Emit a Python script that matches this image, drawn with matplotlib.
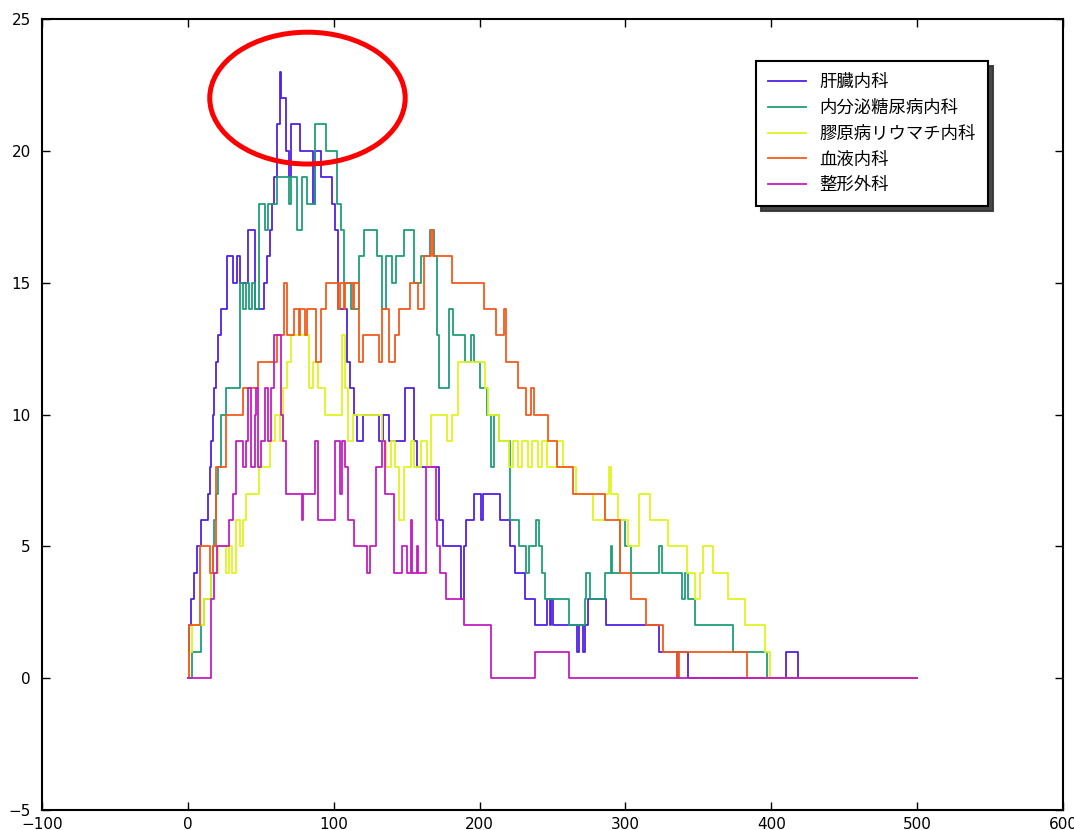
import matplotlib
matplotlib.use('Agg')
import matplotlib.pyplot as plt
from matplotlib.patches import Ellipse

plt.rcParams['font.family'] = ['DejaVu Sans']

# 各科の推移 (x, 値) 変化点
kanzo = [(0,0),(1,2),(2,3),(4,4),(6,5),(9,6),(14,7),(15,8),(16,9),(17,10),(18,11),(19,12),
         (21,13),(23,14),(27,16),(31,15),(34,16),(36,15),(41,17),(46,14),(52,15),(54,16),
         (56,17),(58,18),(59,19),(61,21),(63,23),(64,22),(67,20),(69,19),(71,21),(77,20),
         (86,18),(87,20),(91,19),(99,18),(101,17),(103,14),(109,12),(111,11),(114,10),
         (116,9),(120,10),(131,9),(134,10),(138,9),(149,11),(155,9),(157,8),(172,6),(175,5),
         (187,3),(189,5),(191,6),(196,7),(201,6),(202,7),(214,6),(221,5),(224,4),(231,3),
         (238,2),(246,3),(248,2),(249,3),(250,2),(267,1),(268,2),(271,1),(272,2),(274,3),
         (287,2),(323,1),(335,0),(336,1),(343,0),(410,1),(418,0),(500,0)]

naibunpi = [(0,0),(3,1),(9,2),(11,3),(16,4),(17,5),(18,6),(19,7),(21,8),(23,10),(26,11),
            (36,15),(38,14),(40,15),(42,14),(44,15),(46,14),(49,18),(53,17),(55,18),(61,19),
            (69,18),(71,19),(75,17),(78,19),(82,18),(87,21),(95,20),(102,18),(105,17),
            (107,15),(112,14),(117,16),(121,17),(130,16),(133,14),(136,16),(140,15),(143,16),
            (148,17),(155,15),(160,16),(166,17),(169,16),(171,13),(172,11),(179,14),(182,13),
            (190,12),(194,13),(196,12),(200,11),(205,10),(208,8),(210,10),(213,9),(221,6),
            (227,5),(232,4),(234,5),(239,6),(241,5),(243,4),(245,3),(261,2),(272,3),(273,4),
            (276,3),(286,4),(290,5),(291,4),(296,6),(300,5),(304,4),(323,5),(325,4),(339,3),
            (341,4),(343,3),(348,2),(374,1),(397,0),(500,0)]

kogen = [(0,0),(1,1),(3,2),(11,3),(16,4),(21,5),(26,4),(28,5),(30,4),(33,6),(36,5),(38,6),
         (40,7),(49,8),(56,9),(60,10),(63,9),(65,11),(68,12),(71,13),(83,11),(86,12),(89,11),
         (94,10),(106,13),(108,11),(110,9),(113,10),(133,9),(136,8),(139,9),(142,8),(145,6),
         (148,8),(153,9),(155,8),(160,9),(164,8),(167,10),(178,9),(181,10),(185,12),(204,11),
         (206,10),(213,9),(220,8),(223,9),(226,8),(229,9),(233,8),(236,9),(240,8),(243,9),
         (246,8),(253,9),(257,8),(266,7),(278,6),(286,7),(289,8),(290,7),(295,6),(302,5),
         (309,7),(317,6),(329,5),(342,4),(348,3),(351,4),(353,5),(360,4),(370,3),(382,2),
         (396,1),(399,0),(500,0)]

ketsueki = [(0,0),(1,2),(8,5),(15,4),(17,5),(19,8),(26,10),(38,11),(48,12),(61,13),(66,15),
            (68,13),(73,14),(76,13),(77,14),(80,13),(82,14),(88,12),(91,14),(95,15),(103,14),
            (104,15),(107,14),(108,15),(113,14),(114,15),(117,12),(120,13),(131,12),(133,14),
            (138,12),(142,13),(145,14),(152,15),(158,14),(162,16),(167,17),(168,16),(181,15),
            (203,14),(211,13),(217,14),(218,12),(226,11),(232,10),(235,11),(237,10),(247,9),
            (253,8),(264,7),(286,6),(296,4),(304,3),(314,2),(326,1),(335,0),(337,1),(383,0),
            (500,0)]

seikei = [(0,0),(16,3),(18,4),(20,5),(28,6),(31,7),(33,9),(38,8),(40,9),(41,11),(43,8),
          (46,10),(47,11),(48,8),(50,9),(53,11),(55,9),(57,11),(59,13),(64,10),(65,9),(67,7),
          (78,6),(79,7),(87,9),(89,6),(101,9),(104,7),(106,9),(108,8),(110,6),(114,5),(123,4),
          (125,5),(129,8),(133,9),(135,7),(141,4),(147,5),(150,4),(153,6),(154,4),(157,5),
          (158,4),(163,8),(170,6),(171,5),(173,4),(177,3),(189,2),(208,0),(238,1),(261,0),
          (500,0)]

labels = ['肝臓内科', '内分泌糖尿病内科', '膠原病リウマチ内科', '血液内科', '整形外科']
colors = ['#5021e4', '#1f9f78', '#dff41f', '#f25a1c', '#c41ec0']
series = [kanzo, naibunpi, kogen, ketsueki, seikei]

fig = plt.figure(figsize=(10.74, 8.30), dpi=100)
ax = fig.add_axes([0.0391, 0.0241, 0.9507, 0.9530])

for s, lab, c in zip(series, labels, colors):
    xs = [p[0] for p in s]
    ys = [p[1] for p in s]
    ax.plot(xs, ys, drawstyle='steps-post', color=c, lw=1.3, label=lab)

ax.set_xlim(-100, 600)
ax.set_ylim(-5, 25)
ax.set_xticks([-100, 0, 100, 200, 300, 400, 500, 600])
ax.set_yticks([-5, 0, 5, 10, 15, 20, 25])
ax.tick_params(direction='in', top=True, right=True, length=6, width=1, labelsize=11)
ax.tick_params(axis='y', pad=8)
ax.tick_params(axis='x', pad=5)
for sp in ax.spines.values():
    sp.set_linewidth(1.5)

# 赤丸
ax.add_patch(Ellipse((82, 22), 134, 5.0, fill=False, ec='red', lw=3.6, zorder=10, clip_on=False))

leg = ax.legend(loc='upper right', bbox_to_anchor=(0.9265, 0.947), borderaxespad=0,
                fancybox=False, shadow={'ox': 3.5, 'oy': -3.5, 'shade': 0.8, 'alpha': 0.9},
                prop={'family': ['Noto Sans CJK JP', 'DejaVu Sans'], 'size': 12.5},
                handlelength=2.2, handletextpad=0.75, labelspacing=0.45, borderpad=0.7)
leg.get_frame().set_edgecolor('black')
leg.get_frame().set_linewidth(1.5)
leg.get_frame().set_alpha(1)

fig.savefig('out.png', dpi=100)
